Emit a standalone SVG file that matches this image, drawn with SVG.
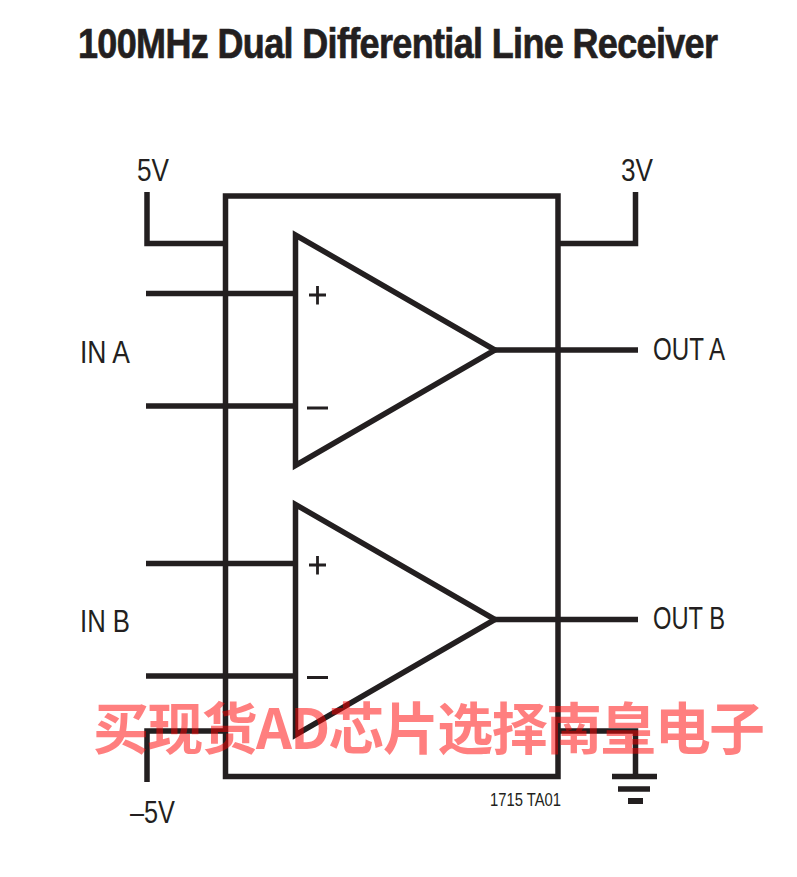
<svg xmlns="http://www.w3.org/2000/svg" width="797" height="877" viewBox="0 0 797 877">
<style>
.w{fill:none;stroke:#231f20;stroke-width:5.500}
.t{font-family:"Liberation Sans",Arial,sans-serif;fill:#231f20}
.l{font-size:31px}
.s{stroke:#231f20;stroke-width:2.800;fill:none}
</style>
<rect width="797" height="877" fill="#fff"/>
<text class="t" transform="translate(78 58) scale(1 1.2)" font-size="36" font-weight="700" stroke="#231f20" stroke-width="0.600" textLength="640">100MHz Dual Differential Line Receiver</text>
<g id="connectors">
<path class="w" d="M147 192V243.500H225.500"/>
<path class="w" d="M635.500 192V243.500H558"/>
<path class="w" d="M146 293.500H295.500M146 406H295.500M146 563.500H295.500M146 676H295.500"/>
<path class="w" d="M495 350H638M495 619.500H638"/>
<path class="w" d="M147 782V731H225.500"/>
<path class="w" d="M558 731H635.500V776"/>
<path class="w" d="M612 776.500H657M618 789H650"/>
<path d="M628 798H643V804H628Z" fill="#231f20"/>
</g>
<g id="chip"><rect class="w" x="225.500" y="196" width="332.500" height="580.500"/></g>
<g id="amp-a">
<path class="w" d="M295.500 235V465.500L495 350Z"/>
<path class="s" d="M309 295H326M317.500 286V304.500M307 408H328"/>
</g>
<g id="amp-b">
<path class="w" d="M295.500 504.500V735L495 619.500Z"/>
<path class="s" d="M309 565H326M317.500 556V574.500M307 677.500H328"/>
</g>
<g id="labels">
<text class="t l" x="137" y="181" textLength="32" lengthAdjust="spacingAndGlyphs">5V</text>
<text class="t l" x="621" y="181" textLength="32" lengthAdjust="spacingAndGlyphs">3V</text>
<text class="t l" x="80" y="363" textLength="50" lengthAdjust="spacingAndGlyphs">IN A</text>
<text class="t l" x="80" y="632" textLength="50" lengthAdjust="spacingAndGlyphs">IN B</text>
<text class="t l" x="653" y="360" textLength="72" lengthAdjust="spacingAndGlyphs">OUT A</text>
<text class="t l" x="653" y="629" textLength="72" lengthAdjust="spacingAndGlyphs">OUT B</text>
<text class="t l" x="130" y="823" textLength="45" lengthAdjust="spacingAndGlyphs">–5V</text>
<text class="t" x="490" y="806" font-size="18" textLength="71" lengthAdjust="spacingAndGlyphs">1715 TA01</text>
</g>
<text x="93" y="749" font-family="'Noto Sans CJK SC',sans-serif" font-size="56" font-weight="700" fill="#ff0000" fill-opacity="0.5" textLength="672">买现货AD芯片选择南皇电子</text>
</svg>
